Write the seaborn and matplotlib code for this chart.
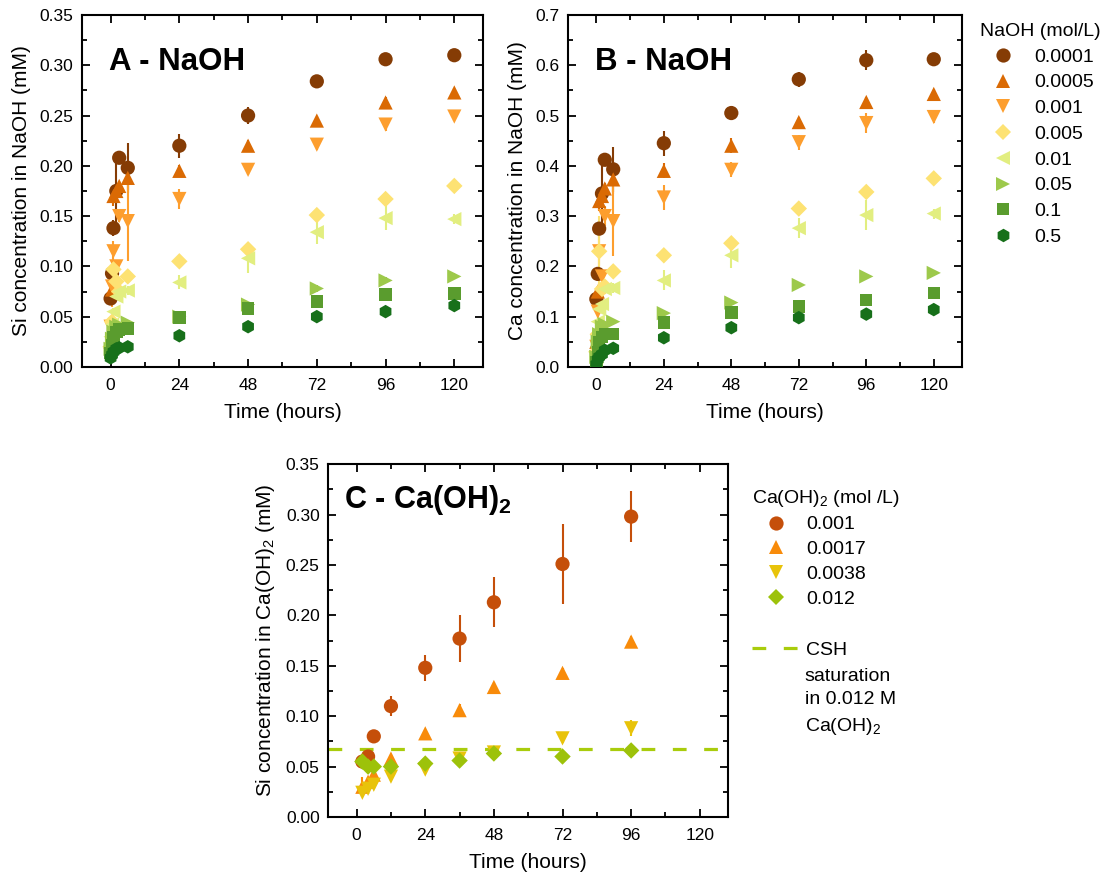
import numpy as np
import pandas as pd
import seaborn as sns
import matplotlib.pyplot as plt
from matplotlib.lines import Line2D
from matplotlib.ticker import MultipleLocator, FormatStrFormatter

sns.set_style("ticks")
plt.rcParams['font.family'] = ['Liberation Sans', 'DejaVu Sans']
plt.rcParams['mathtext.fontset'] = 'custom'
plt.rcParams['mathtext.rm'] = 'Liberation Sans'
plt.rcParams['mathtext.bf'] = 'Liberation Sans:bold'
plt.rcParams['text.color'] = 'black'
plt.rcParams['axes.labelcolor'] = 'black'

# ---- data: NaOH series (panels A, B)
t_naoh = [0, 0.5, 1, 2, 3, 6, 24, 48, 72, 96, 120]
naoh_conc = ['0.0001', '0.0005', '0.001', '0.005', '0.01', '0.05', '0.1', '0.5']

si_naoh = {
    '0.0001': [0.068, 0.093, 0.138, 0.175, 0.208, 0.198, 0.220, 0.250, 0.284, 0.306, 0.310],
    '0.0005': [0.025, 0.077, 0.170, 0.175, 0.180, 0.188, 0.195, 0.220, 0.245, 0.263, 0.273],
    '0.001':  [0.040, 0.080, 0.115, 0.100, 0.150, 0.145, 0.167, 0.196, 0.221, 0.241, 0.249],
    '0.005':  [0.020, 0.045, 0.097, 0.085, 0.075, 0.090, 0.105, 0.117, 0.151, 0.167, 0.180],
    '0.01':   [0.030, 0.042, 0.055, 0.070, 0.075, 0.076, 0.084, 0.108, 0.134, 0.148, 0.147],
    '0.05':   [0.018, 0.028, 0.035, 0.040, 0.042, 0.044, 0.050, 0.062, 0.078, 0.086, 0.090],
    '0.1':    [0.014, 0.022, 0.030, 0.035, 0.037, 0.038, 0.049, 0.058, 0.065, 0.072, 0.073],
    '0.5':    [0.009, 0.012, 0.015, 0.018, 0.019, 0.020, 0.031, 0.040, 0.050, 0.055, 0.061],
}
si_naoh_err = {
    '0.0001': [0, 0, 0.008, 0.035, 0.004, 0.025, 0.012, 0.008, 0.005, 0.005, 0.003],
    '0.0005': [0, 0, 0.010, 0.005, 0.004, 0.012, 0.006, 0.006, 0.005, 0.005, 0.004],
    '0.001':  [0, 0.02, 0.010, 0.005, 0.006, 0.040, 0.010, 0.005, 0.005, 0.006, 0.004],
    '0.005':  [0, 0, 0.004, 0, 0, 0.004, 0.003, 0.005, 0.004, 0.004, 0.003],
    '0.01':   [0, 0.005, 0.004, 0, 0.004, 0.004, 0.007, 0.015, 0.012, 0.012, 0.005],
    '0.05':   [0, 0, 0, 0, 0, 0, 0.004, 0.003, 0.003, 0.003, 0.003],
    '0.1':    [0, 0, 0, 0, 0, 0, 0.005, 0.005, 0.003, 0.006, 0.004],
    '0.5':    [0, 0, 0, 0, 0, 0, 0.002, 0.002, 0.002, 0.002, 0.002],
}
ca_naoh = {
    '0.0001': [0.135, 0.185, 0.275, 0.345, 0.412, 0.393, 0.445, 0.505, 0.572, 0.610, 0.612],
    '0.0005': [0.050, 0.150, 0.330, 0.340, 0.355, 0.373, 0.390, 0.440, 0.487, 0.527, 0.543],
    '0.001':  [0.040, 0.110, 0.230, 0.180, 0.300, 0.290, 0.337, 0.392, 0.447, 0.485, 0.497],
    '0.005':  [0.030, 0.065, 0.230, 0.155, 0.160, 0.190, 0.222, 0.246, 0.315, 0.348, 0.375],
    '0.01':   [0.020, 0.090, 0.115, 0.125, 0.155, 0.157, 0.172, 0.222, 0.276, 0.302, 0.305],
    '0.05':   [0.020, 0.050, 0.065, 0.080, 0.085, 0.090, 0.107, 0.128, 0.163, 0.180, 0.187],
    '0.1':    [0.010, 0.030, 0.050, 0.060, 0.065, 0.065, 0.088, 0.108, 0.120, 0.133, 0.147],
    '0.5':    [0.005, 0.015, 0.020, 0.025, 0.033, 0.037, 0.058, 0.078, 0.098, 0.105, 0.114],
}
ca_naoh_err = {
    '0.0001': [0, 0, 0.015, 0.07, 0.005, 0.045, 0.025, 0.01, 0.015, 0.02, 0.008],
    '0.0005': [0, 0, 0.020, 0.01, 0.010, 0.030, 0.015, 0.015, 0.010, 0.010, 0.010],
    '0.001':  [0, 0.02, 0.030, 0.01, 0.020, 0.070, 0.025, 0.015, 0.015, 0.020, 0.012],
    '0.005':  [0, 0, 0.070, 0, 0, 0.010, 0.008, 0.008, 0.010, 0.010, 0.006],
    '0.01':   [0, 0.01, 0.010, 0, 0.010, 0.010, 0.020, 0.025, 0.020, 0.030, 0.010],
    '0.05':   [0, 0, 0, 0, 0, 0, 0.005, 0.005, 0.005, 0.005, 0.005],
    '0.1':    [0, 0, 0, 0, 0, 0, 0.005, 0.005, 0.005, 0.005, 0.005],
    '0.5':    [0, 0, 0, 0, 0, 0, 0.003, 0.003, 0.003, 0.003, 0.003],
}
naoh_colors = ['#853c05', '#da6a04', '#fd9e2e', '#fde273', '#e2ee80', '#9dc94b', '#5a9c2e', '#17701a']
naoh_markers = ['o', '^', 'v', 'D', '<', '>', 's', 'h']

# ---- data: Ca(OH)2 series (panel C)
t_caoh = [2, 4, 6, 12, 24, 36, 48, 72, 96]
caoh_conc = ['0.001', '0.0017', '0.0038', '0.012']
si_caoh = {
    '0.001':  [0.055, 0.060, 0.080, 0.110, 0.148, 0.177, 0.213, 0.251, 0.298],
    '0.0017': [0.030, 0.035, 0.042, 0.058, 0.083, 0.106, 0.129, 0.143, 0.174],
    '0.0038': [0.024, 0.028, 0.032, 0.040, 0.047, 0.058, 0.064, 0.078, 0.088],
    '0.012':  [0.055, 0.050, 0.050, 0.050, 0.053, 0.056, 0.063, 0.060, 0.066],
}
si_caoh_err = {
    '0.001':  [0.003, 0.005, 0.004, 0.010, 0.013, 0.023, 0.025, 0.040, 0.025],
    '0.0017': [0.010, 0.004, 0.004, 0.004, 0.003, 0.006, 0.005, 0.005, 0.006],
    '0.0038': [0.003, 0.003, 0.003, 0.003, 0.003, 0.004, 0.003, 0.005, 0.008],
    '0.012':  [0.002, 0.002, 0.002, 0.002, 0.002, 0.002, 0.002, 0.002, 0.002],
}
caoh_colors = ['#c54f0a', '#f88b0a', '#e8c30a', '#9dc20a']
caoh_markers = ['o', '^', 'v', 'D']
csh_saturation = 0.067
csh_color = '#a9cc0c'

# marker area (pt^2) per marker shape
marker_area = {'o': 105, '^': 105, 'v': 105, 'D': 70, '<': 105, '>': 105, 's': 80, 'h': 95}


def long_df(t, values, errs):
    rows = []
    for k in values:
        for ti, v, e in zip(t, values[k], errs[k]):
            rows.append({'time': ti, 'conc': k, 'val': v, 'err': e})
    return pd.DataFrame(rows)


def style_axes(ax, ymax, ymajor, fmt):
    ax.set_xlim(-10, 130)
    ax.set_ylim(0, ymax)
    ax.xaxis.set_major_locator(MultipleLocator(24))
    ax.xaxis.set_minor_locator(MultipleLocator(12))
    ax.yaxis.set_major_locator(MultipleLocator(ymajor))
    ax.yaxis.set_minor_locator(MultipleLocator(ymajor / 2))
    ax.yaxis.set_major_formatter(FormatStrFormatter(fmt))
    ax.tick_params(which='both', direction='in', top=True, right=True, width=1.3,
                   labelsize=12.5, colors='black')
    ax.tick_params(axis='x', which='major', pad=8)
    ax.tick_params(axis='y', which='major', pad=6)
    ax.tick_params(which='major', length=6)
    ax.tick_params(which='minor', length=3.5)
    for s in ax.spines.values():
        s.set_linewidth(1.5)
        s.set_color('black')
        s.set_visible(True)
    ax.set_xlabel('Time (hours)', fontsize=15, labelpad=7)


def draw(ax, df, conc, colors, markers):
    pal = dict(zip(conc, colors))
    mk = dict(zip(conc, markers))
    sz = {c: marker_area[m] for c, m in zip(conc, markers)}
    for c in conc:
        d = df[df['conc'] == c]
        ax.errorbar(d['time'], d['val'], yerr=d['err'], fmt='none',
                    ecolor=pal[c], elinewidth=1.5, capsize=0, zorder=2)
    sns.scatterplot(data=df, x='time', y='val', hue='conc', style='conc', size='conc',
                    palette=pal, markers=mk, sizes=sz, hue_order=conc, style_order=conc,
                    size_order=conc, linewidth=0, legend=False, ax=ax, zorder=3)


fig = plt.figure(figsize=(11.12, 8.82), dpi=100)
axA = fig.add_axes([0.0737, 0.584, 0.3606, 0.399])
axB = fig.add_axes([0.511, 0.584, 0.354, 0.399])
axC = fig.add_axes([0.295, 0.0737, 0.36, 0.4])

draw(axA, long_df(t_naoh, si_naoh, si_naoh_err), naoh_conc, naoh_colors, naoh_markers)
draw(axB, long_df(t_naoh, ca_naoh, ca_naoh_err), naoh_conc, naoh_colors, naoh_markers)
axC.axhline(csh_saturation, color=csh_color, lw=2.3, dashes=(4.3, 5.5), zorder=1)
draw(axC, long_df(t_caoh, si_caoh, si_caoh_err), caoh_conc, caoh_colors, caoh_markers)

style_axes(axA, 0.35, 0.05, '%.2f')
style_axes(axB, 0.7, 0.1, '%.1f')
style_axes(axC, 0.35, 0.05, '%.2f')
axA.set_ylabel('Si concentration in NaOH (mM)', fontsize=15, labelpad=6)
axB.set_ylabel('Ca concentration in NaOH (mM)', fontsize=15, labelpad=6)
axC.set_ylabel('Si concentration in Ca(OH)$_2$ (mM)', fontsize=15, labelpad=6)

axA.text(0.067, 0.844, 'A - NaOH', transform=axA.transAxes, fontsize=22.5,
         fontweight='bold', va='baseline')
axB.text(0.067, 0.844, 'B - NaOH', transform=axB.transAxes, fontsize=22.5,
         fontweight='bold', va='baseline')
axC.text(0.04, 0.875, r'C - Ca(OH)$_\mathbf{2}$', transform=axC.transAxes, fontsize=22,
         fontweight='bold', va='baseline')

# legends
h1 = [Line2D([], [], marker=m, color=c, ls='none', markersize=marker_area[m] ** 0.5,
             markeredgewidth=0) for m, c in zip(naoh_markers, naoh_colors)]
fig.legend(h1, naoh_conc, title='NaOH (mol/L)', loc='upper left',
           bbox_to_anchor=(0.874, 0.983), frameon=False, fontsize=14,
           title_fontsize=14, handlelength=2.4, handletextpad=0.4,
           labelspacing=0.42, alignment='left', borderaxespad=0)

h2 = [Line2D([], [], marker=m, color=c, ls='none', markersize=marker_area[m] ** 0.5,
             markeredgewidth=0) for m, c in zip(caoh_markers, caoh_colors)]
fig.legend(h2, caoh_conc, title='Ca(OH)$_2$ (mol /L)', loc='upper left',
           bbox_to_anchor=(0.669, 0.456), frameon=False, fontsize=14,
           title_fontsize=14, handlelength=2.5, handletextpad=0.3,
           labelspacing=0.37, alignment='left', borderaxespad=0)
h3 = [Line2D([], [], color=csh_color, lw=2.3, dashes=(4.3, 5.5))]
fig.legend(h3, ['CSH'], loc='center left', bbox_to_anchor=(0.669, 0.263),
           frameon=False, fontsize=14, handlelength=2.5, handletextpad=0.3,
           borderaxespad=0)
fig.text(0.7235, 0.243, 'saturation\nin 0.012 M\nCa(OH)$_2$', fontsize=14,
         va='top', ha='left', linespacing=1.5)

fig.savefig('out.png', dpi=100)
